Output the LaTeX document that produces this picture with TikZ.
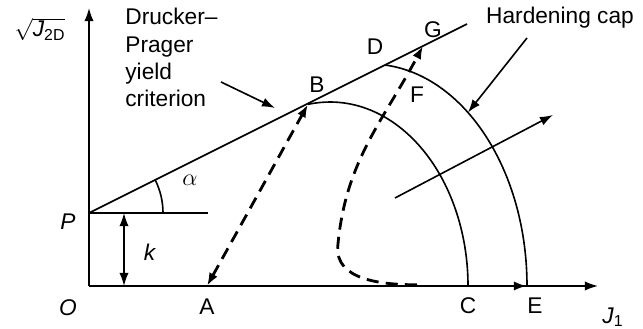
\documentclass[tikz,border=0pt]{standalone}
\usepackage{amsmath}
\usepackage{fontspec}
\setmainfont{Liberation Sans}
\usetikzlibrary{arrows.meta}

\begin{document}
\begin{tikzpicture}[scale=.7,
  font=\fontsize{11.3}{13.6}\selectfont,
  >={Latex[length=6.5pt,width=4.6pt]},
  asse/.style={thick,->},
  capline/.style={thick},
  percorso/.style={line width=1.4pt,dash pattern=on 6pt off 3.6pt}]

\useasboundingbox (-2.225,-1.075) rectangle (13.85,7.15);

% --- PUNTI ---
\coordinate (O) at (0,0);
\coordinate (Y) at (0,6.95);
\coordinate (X) at (12.725,0);
\coordinate (P) at (0,1.825);
\coordinate (Ph) at (2.975,1.825);
\coordinate (L) at (9.45,6.55);
\coordinate (A) at (2.95,0);
\coordinate (C) at (9.475,0);
\coordinate (E) at (10.95,0);
\coordinate (B) at ([shift={(6.025,0)}]99.2:3.45 and 4.6);
\coordinate (D) at ([shift={(7.025,0)}]84.5:3.925 and 5.55);
\coordinate (G) at (8.35,6.0);

% --- ASSI ---
\draw[asse] (O) -- (Y);
\draw[asse] (O) -- (X);
\node (lO) at (-0.525,-0.55) {\textit{O}};
\node (lJ1) at (13.1,-0.775) {$\textit{J}_{\text{1}}$};
\node (lJ2) at (-1.225,6.42) {$\sqrt{\textit{J}_{\text{2D}}}$};

% --- DRUCKER-PRAGER ---
\draw[thick] (P) -- (L);
\draw[thick] (P) -- (Ph);
\draw[thick] (P) ++(1.85,0) arc[start angle=0,end angle=26.57,radius=1.85];
\node (la) at (2.525,2.65) {\large$\alpha$};
\node (lP) at (-0.525,1.6) {\textit{P}};
\coordinate (K1) at (0.875,0);
\coordinate (K2) at (0.875,1.825);
\draw[thick,<->] (K1) -- (K2);
\node (lk) at (1.525,0.85) {\textit{k}};

\node[align=left,anchor=north west,inner sep=0] (dp) at (0.9,6.95)
  {Drucker–\\Prager\\yield\\criterion};
\coordinate (dp1) at (3.3,5.1);
\coordinate (dp2) at (4.65,4.45);
\draw[thick,->] (dp1) -- (dp2);

% --- CAP ---
\draw[capline] (C) arc[start angle=0,end angle=99.2,x radius=3.45,y radius=4.6];
\draw[capline] (E) arc[start angle=0,end angle=84.5,x radius=3.925,y radius=5.55];

\node (hc) at (11.775,6.7) {Hardening cap};
\coordinate (hc1) at (10.95,6.2);
\coordinate (hc2) at ([shift={(7.025,0)}]51.4:3.925 and 5.55);
\draw[thick,->] (hc1) -- (hc2);

\coordinate (ex1) at (7.65,2.2);
\coordinate (ex2) at (11.6,4.275);
\draw[thick,->] (ex1) -- (ex2);

% --- PERCORSO DI CARICO ---
\draw[percorso,<->] (A) -- (B);
\draw[percorso,->] (A) -- (E);
\draw[percorso,->] (8.2,0.03) to[out=180,in=-95] (6.22,1.0)
  to[out=85,in=-118] (G);

% --- ETICHETTE ---
\node (lA) at (2.95,-0.525) {A};
\node (lB) at (5.7,5.025) {B};
\node (lC) at (9.475,-0.5) {C};
\node (lD) at (7.15,5.975) {D};
\node (lE) at (11.15,-0.5) {E};
\node (lF) at (8.2,4.775) {F};
\node (lG) at (8.6,6.4) {G};

\end{tikzpicture}
\end{document}
